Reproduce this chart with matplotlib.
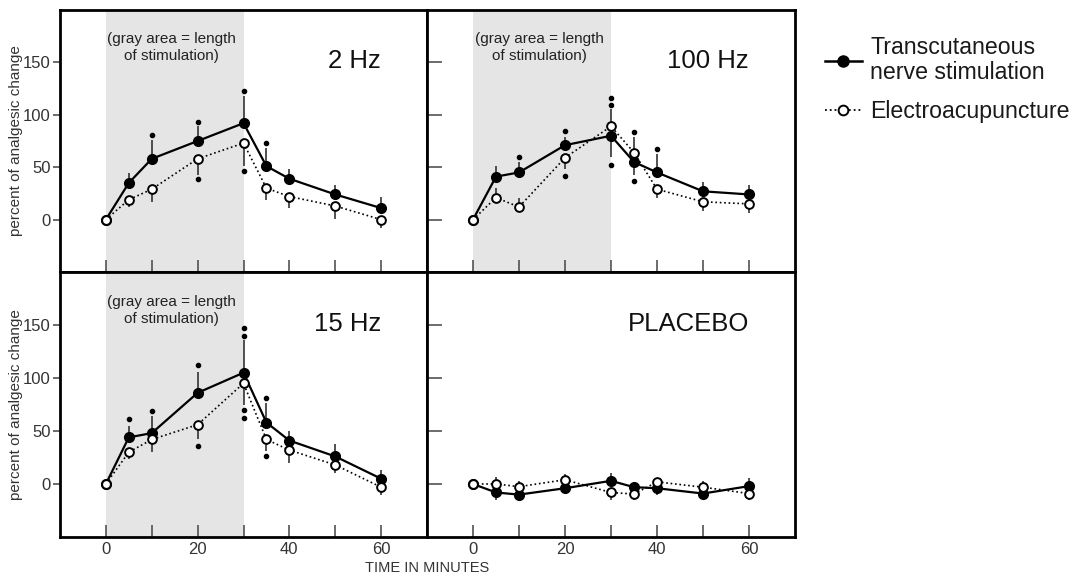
import matplotlib.pyplot as plt
from matplotlib.lines import Line2D

plt.rcParams['font.family'] = ['Liberation Sans', 'DejaVu Sans']

times = [0, 5, 10, 20, 30, 35, 40, 50, 60]
titles = ['2 Hz', '100 Hz', '15 Hz', 'PLACEBO']

# transcutaneous nerve stimulation (filled) and electroacupuncture (open)
tns_2hz = [0, 35, 58, 75, 92, 51, 39, 24, 11]
tns_2hz_bar = [0, 44, 76, 89, 118, 68, 48, 33, 22]
ea_2hz = [0, 19, 29, 58, 73, 30, 22, 13, 0]
ea_2hz_bar = [0, 12, 17, 43, 51, 19, 11, 1, -8]
dots_2hz_t = [10, 20, 20, 30, 30, 35]
dots_2hz_y = [81, 93, 39, 123, 46, 73]

tns_100hz = [0, 41, 45, 71, 80, 55, 45, 27, 24]
tns_100hz_bar = [0, 51, 55, 79, 60, 43, 63, 36, 33]
ea_100hz = [0, 21, 12, 59, 89, 64, 29, 17, 15]
ea_100hz_bar = [0, 30, 21, 48, 106, 79, 21, 8, 6]
dots_100hz_t = [10, 20, 20, 30, 30, 30, 35, 35, 40]
dots_100hz_y = [60, 85, 42, 116, 109, 52, 84, 37, 67]

tns_15hz = [0, 44, 48, 86, 105, 58, 41, 26, 5]
tns_15hz_bar = [0, 55, 64, 106, 136, 76, 50, 38, 13]
ea_15hz = [0, 30, 42, 56, 95, 42, 32, 18, -3]
ea_15hz_bar = [0, 24, 30, 42, 75, 31, 20, 10, -10]
dots_15hz_t = [5, 10, 20, 20, 30, 30, 30, 30, 35, 35]
dots_15hz_y = [61, 69, 112, 36, 140, 147, 70, 62, 81, 26]

tns_plac = [0, -8, -10, -4, 3, -3, -4, -9, -2]
tns_plac_bar = [0, -15, -16, -9, 10, 1, -10, -15, 6]
ea_plac = [0, 0, -2.5, 4, -8, -9.5, 2, -3, -9]
ea_plac_bar = [0, 7, 3, 9.5, -15, -15, 6, 3, -15]
dots_plac_t = []
dots_plac_y = []

panels = [
    (tns_2hz, tns_2hz_bar, ea_2hz, ea_2hz_bar, dots_2hz_t, dots_2hz_y),
    (tns_100hz, tns_100hz_bar, ea_100hz, ea_100hz_bar, dots_100hz_t, dots_100hz_y),
    (tns_15hz, tns_15hz_bar, ea_15hz, ea_15hz_bar, dots_15hz_t, dots_15hz_y),
    (tns_plac, tns_plac_bar, ea_plac, ea_plac_bar, dots_plac_t, dots_plac_y),
]

fig = plt.figure(figsize=(10.8, 5.77), dpi=100)
L, R, T, B = 60/1080, 795/1080, 1 - 10/577, 1 - 537/577
midx, midy = 427/1080, 1 - 272/577
rects = [(L, midy, midx - L, T - midy), (midx, midy, R - midx, T - midy),
         (L, B, midx - L, midy - B), (midx, B, R - midx, midy - B)]

gray_txt = '#333333'
for i, (rect, data) in enumerate(zip(rects, panels)):
    tns, tns_bar, ea, ea_bar, dt, dy = data
    ax = fig.add_axes(rect)
    ax.set_xlim(-10, 70)
    ax.set_ylim(-50, 200)
    if i < 3:
        ax.axvspan(0, 30, color='#e5e5e5', lw=0, zorder=0)
        ax.text(14.4, 164, '(gray area = length\nof stimulation)', ha='center', va='center',
                fontsize=11, color='#222222', linespacing=1.3)
    ax.text(60, 151, titles[i], ha='right', va='center', fontsize=18.5, color='#111111')

    ax.vlines(times[1:], tns[1:], tns_bar[1:], color='#333333', lw=1.2, zorder=2)
    ax.vlines(times[1:], ea[1:], ea_bar[1:], color='#333333', lw=1.2, zorder=2)
    ax.plot(dt, dy, 'o', color='black', ms=3, zorder=2)
    ax.plot(times, tns, '-o', color='black', lw=1.6, ms=7, zorder=3)
    ax.plot(times, ea, ':o', color='black', lw=1.2, ms=6.3, mfc='white', mec='black',
            mew=1.4, zorder=4)

    for s in ax.spines.values():
        s.set_linewidth(2)
    ax.set_xticks(range(0, 61, 10))
    ax.set_yticks([0, 50, 100, 150])
    ax.tick_params(axis='x', direction='in', length=9, width=1.1, color='#444444')
    if i % 2 == 0:
        ax.tick_params(axis='y', direction='out', length=5, width=1.1, pad=1.5, labelsize=12,
                       labelcolor=gray_txt, color='#444444')
        ax.set_ylabel('percent of analgesic change', fontsize=11, color=gray_txt, labelpad=0)
    else:
        ax.tick_params(axis='y', direction='in', length=11, width=1.1, labelleft=False,
                       color='#444444')
    if i >= 2:
        ax.set_xticklabels(['0', '', '20', '', '40', '', '60'], fontsize=12, color=gray_txt)
    else:
        ax.tick_params(axis='x', labelbottom=False)

fig.text(midx, 1 - 568/577, 'TIME IN MINUTES', ha='center', va='center', fontsize=10.5,
         color=gray_txt)

handles = [Line2D([], [], color='black', lw=1.8, marker='o', ms=8),
           Line2D([], [], color='black', lw=1.3, ls=':', marker='o', ms=7, mfc='white', mew=1.4)]
leg = fig.legend(handles, ['Transcutaneous\nnerve stimulation', 'Electroacupuncture'],
                 loc='upper left', bbox_to_anchor=(0.753, 0.957), frameon=False, fontsize=16.7,
                 handlelength=1.6, handletextpad=0.35, labelspacing=0.68, borderpad=0)
for t in leg.get_texts():
    t.set_linespacing(1.1)
    t.set_color('#1a1a1a')

fig.savefig('out.png', dpi=100)
